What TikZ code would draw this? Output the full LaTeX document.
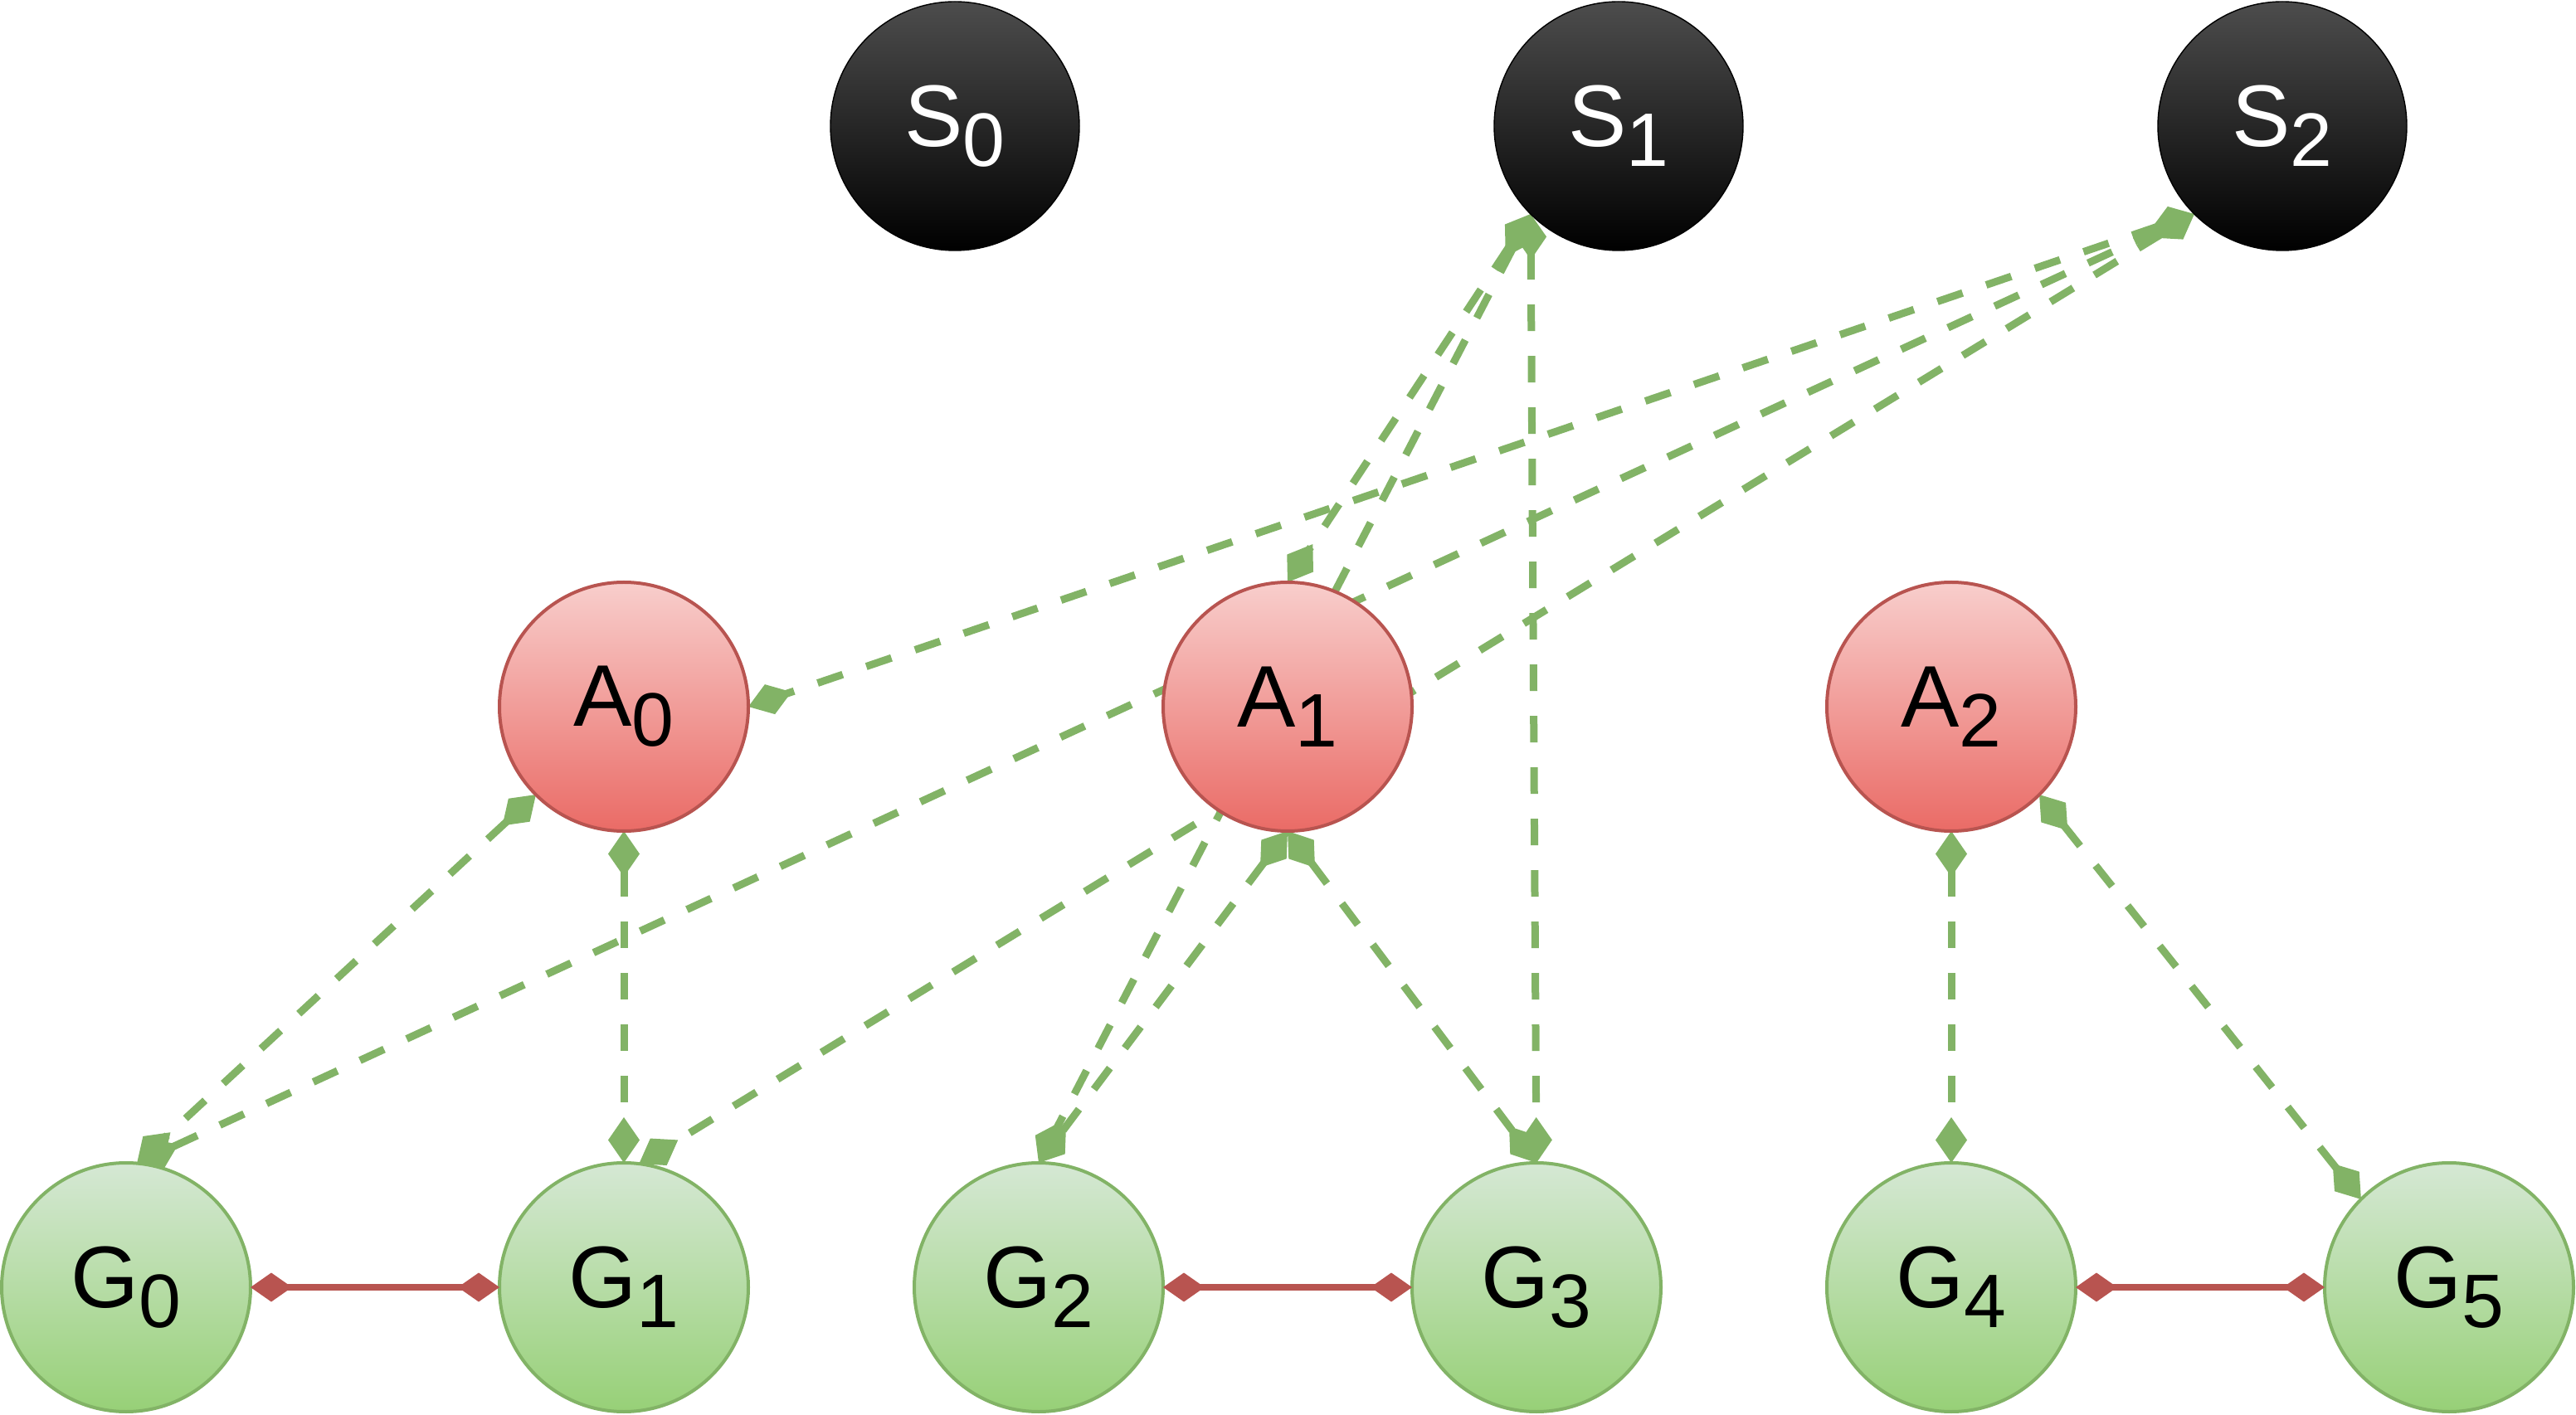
\documentclass[tikz,border=0pt]{standalone}
\usepackage{fontspec}
\setmainfont{Liberation Sans}
\usetikzlibrary{
  arrows.meta,
  positioning,
  backgrounds
}
\definecolor{grnline}{HTML}{82B366}
\definecolor{redline}{HTML}{B85450}
\newcommand{\lowidx}[1]{\raisebox{-0.24cm}{\fontsize{26}{26}\selectfont #1}}

\begin{document}
\begin{tikzpicture}[node distance=5cm,
  nd/.style={circle,minimum size=3cm,inner sep=0pt,outer sep=0pt,font=\fontsize{30}{30}\selectfont},
  snode/.style={nd,draw=black,top color=black!70,bottom color=black,text=white},
  anode/.style={nd,draw=redline,line width=0.04cm,top color={rgb,255:red,248;green,206;blue,204},bottom color={rgb,255:red,234;green,107;blue,102}},
  gnode/.style={nd,draw=grnline,line width=0.04cm,top color={rgb,255:red,213;green,232;blue,212},bottom color={rgb,255:red,151;green,208;blue,119}},
  glink/.style={draw=grnline,line width=0.09cm,dash pattern=on 0.32cm off 0.3cm,{Diamond[length=0.55cm,width=0.38cm,fill=grnline]}-{Diamond[length=0.55cm,width=0.38cm,fill=grnline]}},
  rlink/.style={draw=redline,line width=0.08cm,{Diamond[length=0.5cm,width=0.35cm,fill=redline]}-{Diamond[length=0.5cm,width=0.35cm,fill=redline]}}
]
		\useasboundingbox (0,0) rectangle (31.05,17.05);
		% top row
		\node[snode] (S0) at (11.51,15.53) {S\lowidx{0}};
		\node[snode,right = of S0] (S1) {S\lowidx{1}};
		\node[snode,right = of S1] (S2) {S\lowidx{2}};
		% middle row
		\node[anode] (A0) at (7.52,8.53) {A\lowidx{0}};
		\node[anode,right = of A0] (A1) {A\lowidx{1}};
		\node[anode,right = of A1] (A2) {A\lowidx{2}};
		% bottom row
		\node[gnode,below = 4cm of A0] (G1) {G\lowidx{1}};
		\node[gnode,left = 3cm of G1] (G0) {G\lowidx{0}};
		\node[gnode,right = 2cm of G1] (G2) {G\lowidx{2}};
		\node[gnode,right = 3cm of G2] (G3) {G\lowidx{3}};
		\node[gnode,below = 4cm of A2] (G4) {G\lowidx{4}};
		\node[gnode,right = 3cm of G4] (G5) {G\lowidx{5}};

		\begin{pgfonlayer}{background}
		\draw[glink] (S2.225) -- (A0.east);
		\draw[glink] (S2.225) -- (G0.85);
		\draw[glink] (S2.225) -- (G1.83);
		\draw[glink] (S1.225) -- (A1.north);
		\draw[glink] (S1.225) -- (G2.north);
		\draw[glink] (S1.225) -- (G3.north);
		\draw[glink] (A0.225) -- (G0.85);
		\draw[glink] (A0.south) -- (G1.north);
		\draw[glink] (A1.south) -- (G2.north);
		\draw[glink] (A1.south) -- (G3.north);
		\draw[glink] (A2.south) -- (G4.north);
		\draw[glink] (A2.-45) -- (G5.135);
		\end{pgfonlayer}

		\draw[rlink] (G0) -- (G1);
		\draw[rlink] (G2) -- (G3);
		\draw[rlink] (G4) -- (G5);
	\end{tikzpicture}
\end{document}
